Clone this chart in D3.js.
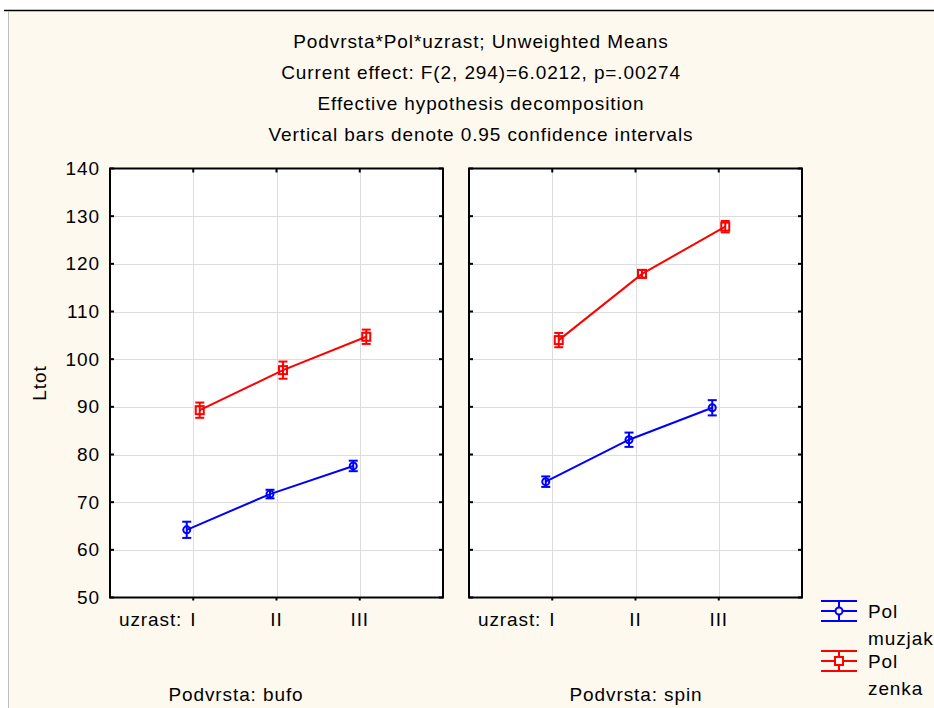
<!DOCTYPE html>
<html>
<head>
<meta charset="utf-8">
<script src="https://cdn.jsdelivr.net/npm/d3@7"></script>
<style>
  html, body { margin: 0; padding: 0; background: #ffffff; }
  svg { display: block; }
  text { font-family: "Liberation Sans", Arial, sans-serif; fill: #000; }
</style>
</head>
<body>
<svg id="chart" width="934" height="708"></svg>
<script>
// ---------------- data ----------------
const titleLines = [
  "Podvrsta*Pol*uzrast; Unweighted Means",
  "Current effect: F(2, 294)=6.0212, p=.00274",
  "Effective hypothesis decomposition",
  "Vertical bars denote 0.95 confidence intervals"
];
const panels = ["bufo", "spin"];
const ages = ["I", "II", "III"];
const sexes = ["muzjak", "zenka"];
const yTicks = [50, 60, 70, 80, 90, 100, 110, 120, 130, 140];

const bufoMuzjak   = [64.2, 71.7, 77.6];
const bufoMuzjakCI = [1.7, 0.9, 1.1];
const bufoZenka    = [89.3, 97.7, 104.7];
const bufoZenkaCI  = [1.6, 1.8, 1.5];
const spinMuzjak   = [74.3, 83.1, 89.8];
const spinMuzjakCI = [1.1, 1.5, 1.6];
const spinZenka    = [104.0, 117.9, 127.8];
const spinZenkaCI  = [1.5, 0.8, 1.2];

const series = {
  bufo: { muzjak: [bufoMuzjak, bufoMuzjakCI], zenka: [bufoZenka, bufoZenkaCI] },
  spin: { muzjak: [spinMuzjak, spinMuzjakCI], zenka: [spinZenka, spinZenkaCI] }
};
const colors = { muzjak: "#0000ff", zenka: "#ff0000" };

// ---------------- layout ----------------
const svg = d3.select("#chart");
const FS = 19, LS = "0.9px";
const bg = "#fef9ee";

svg.append("rect").attr("x", 8).attr("y", 10).attr("width", 926).attr("height", 698).attr("fill", bg);
svg.append("line").attr("x1", 4).attr("x2", 934).attr("y1", 10.5).attr("y2", 10.5).attr("stroke", "#000").attr("stroke-width", 1.5);
svg.append("line").attr("x1", 8.5).attr("x2", 8.5).attr("y1", 11).attr("y2", 708).attr("stroke", "#bdbdbd").attr("stroke-width", 1);

// title
const titleY = [48, 79, 110, 141];
titleLines.forEach((t, i) => {
  svg.append("text").attr("x", 481).attr("y", titleY[i]).attr("text-anchor", "middle")
    .attr("font-size", FS).attr("letter-spacing", LS).text(t);
});

const y = d3.scaleLinear().domain([50, 140]).range([597.5, 168.5]);
const panelX = { bufo: [110, 443], spin: [469, 802] };
const panelLabelX = { bufo: 236, spin: 636 };
const offset = d3.scalePoint().domain(sexes).range([-6.5, 6.5]);

panels.forEach((p, pi) => {
  const [x0, x1] = panelX[p];
  const x = d3.scalePoint().domain(ages).range([x0, x1]).padding(1);
  const g = svg.append("g");

  g.append("rect").attr("x", x0).attr("y", y(140)).attr("width", x1 - x0).attr("height", y(50) - y(140)).attr("fill", "#fff");

  // grid
  g.selectAll(".hg").data(yTicks.slice(1, -1)).enter().append("line")
    .attr("x1", x0).attr("x2", x1).attr("y1", d => Math.round(y(d)) + 0.5).attr("y2", d => Math.round(y(d)) + 0.5)
    .attr("stroke", "#dcdcdc").attr("stroke-width", 1);
  g.selectAll(".vg").data(ages).enter().append("line")
    .attr("x1", d => Math.round(x(d)) + 0.5).attr("x2", d => Math.round(x(d)) + 0.5)
    .attr("y1", y(140)).attr("y2", y(50))
    .attr("stroke", "#dcdcdc").attr("stroke-width", 1);

  // ticks
  g.selectAll(".lt").data(yTicks).enter().append("line")
    .attr("x1", x0).attr("x2", x0 + 4).attr("y1", d => y(d)).attr("y2", d => y(d)).attr("stroke", "#000").attr("stroke-width", 2);
  g.selectAll(".rt").data(yTicks).enter().append("line")
    .attr("x1", x1 - 4).attr("x2", x1).attr("y1", d => y(d)).attr("y2", d => y(d)).attr("stroke", "#000").attr("stroke-width", 2);
  g.selectAll(".tt").data(ages).enter().append("line")
    .attr("x1", d => x(d)).attr("x2", d => x(d)).attr("y1", y(140)).attr("y2", y(140) + 4).attr("stroke", "#000").attr("stroke-width", 2);
  g.selectAll(".bt").data(ages).enter().append("line")
    .attr("x1", d => x(d)).attr("x2", d => x(d)).attr("y1", y(50)).attr("y2", y(50) + 3).attr("stroke", "#000").attr("stroke-width", 2);

  // frame
  g.append("rect").attr("x", x0).attr("y", y(140)).attr("width", x1 - x0).attr("height", y(50) - y(140))
    .attr("fill", "none").attr("stroke", "#000").attr("stroke-width", 2);

  // y tick labels (left panel only)
  if (pi === 0) {
    g.selectAll(".yl").data(yTicks).enter().append("text")
      .attr("x", x0 - 10).attr("y", d => y(d) + 6.5).attr("text-anchor", "end")
      .attr("font-size", FS).attr("letter-spacing", LS).text(d => d);
  }

  // x tick labels
  g.selectAll(".xl").data(ages).enter().append("text")
    .attr("x", d => x(d)).attr("y", 626).attr("text-anchor", "middle")
    .attr("font-size", FS).attr("letter-spacing", LS).text(d => d);
  g.append("text").attr("x", x(ages[0]) - 11).attr("y", 626).attr("text-anchor", "end")
    .attr("font-size", FS).attr("letter-spacing", LS).text("uzrast:");

  g.append("text").attr("x", panelLabelX[p]).attr("y", 701).attr("text-anchor", "middle")
    .attr("font-size", FS).attr("letter-spacing", LS).text("Podvrsta: " + p);

  // series
  sexes.forEach(s => {
    const [vals, ci] = series[p][s];
    const c = colors[s];
    const pts = ages.map((a, i) => ({ a, v: vals[i], e: ci[i], px: x(a) + offset(s) }));
    g.append("path").datum(pts)
      .attr("d", d3.line().x(d => d.px).y(d => y(d.v)))
      .attr("fill", "none").attr("stroke", c).attr("stroke-width", 2);
    const eb = g.selectAll(".eb" + s).data(pts).enter().append("g");
    eb.append("line").attr("x1", d => d.px).attr("x2", d => d.px)
      .attr("y1", d => y(d.v + d.e)).attr("y2", d => y(d.v - d.e)).attr("stroke", c).attr("stroke-width", 2);
    eb.append("line").attr("x1", d => d.px - 4.5).attr("x2", d => d.px + 4.5)
      .attr("y1", d => y(d.v + d.e)).attr("y2", d => y(d.v + d.e)).attr("stroke", c).attr("stroke-width", 2);
    eb.append("line").attr("x1", d => d.px - 4.5).attr("x2", d => d.px + 4.5)
      .attr("y1", d => y(d.v - d.e)).attr("y2", d => y(d.v - d.e)).attr("stroke", c).attr("stroke-width", 2);
    if (s === "muzjak") {
      eb.append("circle").attr("cx", d => d.px).attr("cy", d => y(d.v)).attr("r", 3.5)
        .attr("fill", "none").attr("stroke", c).attr("stroke-width", 2);
    } else {
      eb.append("rect").attr("x", d => d.px - 4).attr("y", d => y(d.v) - 4).attr("width", 8).attr("height", 8)
        .attr("fill", "none").attr("stroke", c).attr("stroke-width", 2);
    }
  });
});

// y axis title
svg.append("text").attr("transform", "translate(46,383) rotate(-90)").attr("text-anchor", "middle")
  .attr("font-size", FS).attr("letter-spacing", LS).text("Ltot");

// legend
const legY = { muzjak: 611, zenka: 661 };
sexes.forEach(s => {
  const c = colors[s], cy = legY[s], cx = 839;
  const lg = svg.append("g");
  [-10, 0, 10].forEach(dy => {
    lg.append("line").attr("x1", 821).attr("x2", 857).attr("y1", cy + dy).attr("y2", cy + dy).attr("stroke", c).attr("stroke-width", 2);
  });
  lg.append("line").attr("x1", cx).attr("x2", cx).attr("y1", cy - 10).attr("y2", cy + 10).attr("stroke", c).attr("stroke-width", 2);
  if (s === "muzjak") {
    lg.append("circle").attr("cx", cx).attr("cy", cy).attr("r", 3.5).attr("fill", bg).attr("stroke", c).attr("stroke-width", 2);
  } else {
    lg.append("rect").attr("x", cx - 4).attr("y", cy - 4).attr("width", 8).attr("height", 8).attr("fill", bg).attr("stroke", c).attr("stroke-width", 2);
  }
  lg.append("text").attr("x", 868).attr("y", cy + 7).attr("font-size", FS).attr("letter-spacing", LS).text("Pol");
  lg.append("text").attr("x", 868).attr("y", cy + 34).attr("font-size", FS).attr("letter-spacing", LS).text(s);
});
</script>
</body>
</html>
